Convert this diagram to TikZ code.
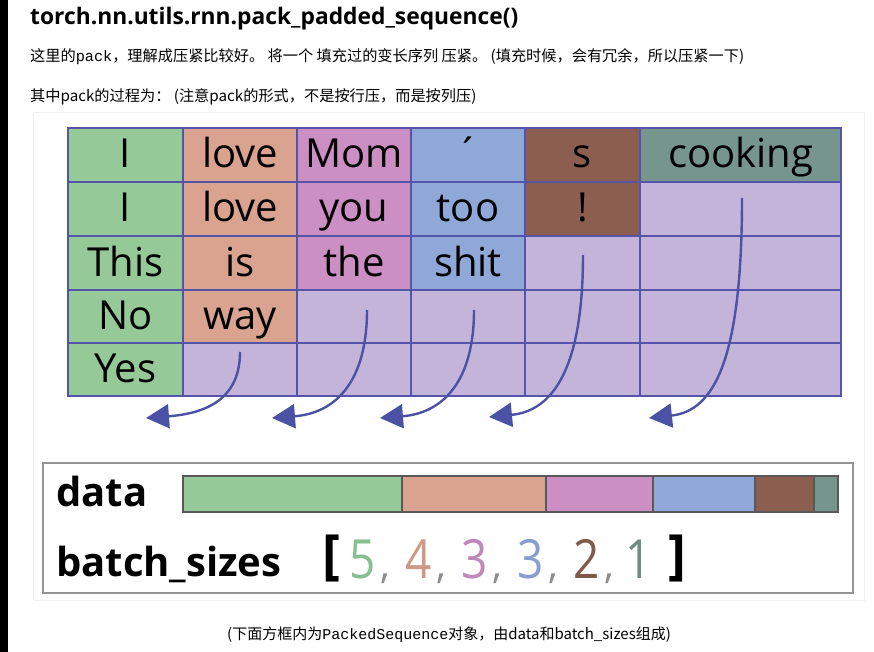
\documentclass[tikz,border=0pt]{standalone}
\usepackage{fontspec}
\setmainfont{Open Sans}
\setmonofont{Liberation Mono}
\newfontfamily\cjk{Noto Sans CJK SC}
\usetikzlibrary{arrows.meta}
\definecolor{cg}{HTML}{95C997}
\definecolor{cs}{HTML}{D9A38F}
\definecolor{cp}{HTML}{CC8FC4}
\definecolor{cb}{HTML}{8FA8D8}
\definecolor{cr}{HTML}{8B5E50}
\definecolor{ct}{HTML}{76958C}
\definecolor{cl}{HTML}{C4B4DA}
\definecolor{gridc}{HTML}{5454AA}
\definecolor{arrc}{HTML}{4B52A6}
\definecolor{d5}{HTML}{86C092}
\definecolor{d4}{HTML}{CD9A88}
\definecolor{d3}{HTML}{BF88B8}
\definecolor{d3b}{HTML}{879FD0}
\definecolor{d2}{HTML}{7E5A4C}
\definecolor{d1}{HTML}{6F8D84}
\begin{document}
\begin{tikzpicture}[x=1pt,y=-1pt,
  cell/.style={draw=gridc, line width=2.5pt, inner sep=0pt, text height=29pt, text depth=3pt,
    font=\fontsize{40}{40}\selectfont},
  arr/.style={draw=arrc, line width=2.4pt, -{Triangle[length=23pt,width=24pt]}},
  seg/.style={draw=black!65, line width=1.2pt, inner sep=0pt, minimum height=36pt},
  big/.style={anchor=base west, inner sep=0pt, font=\bfseries\fontsize{40}{40}\selectfont},
  digit/.style={anchor=base, inner sep=0pt, font=\fontsize{54}{54}\selectfont},
  comma/.style={anchor=base, inner sep=0pt, text=black!45, font=\fontsize{40}{40}\selectfont},
  brk/.style={inner sep=0pt, font=\bfseries\fontsize{54}{54}\selectfont},
  para/.style={anchor=west, inner sep=0pt, font=\cjk\fontsize{15.2}{16}\selectfont}]
\useasboundingbox (0,0) rectangle (874,652);
\fill[white] (0,0) rectangle (874,652);
\fill[black] (0,0) rectangle (8,652);
\draw[black!6, line width=0.8pt] (33,112) rectangle (864,600);

% header texts
\node[anchor=base west, inner sep=0pt, font=\bfseries\fontsize{22.8}{23}\selectfont] (title) at (30,25) {torch.nn.utils.rnn.pack\_padded\_sequence()};
\node[para] (l2) at (30,57) {这里的{\ttfamily pack}，理解成压紧比较好。 将一个 填充过的变长序列 压紧。 (填充时候，会有冗余，所以压紧一下)};
\node[para] (l3) at (30,97) {其中pack的过程为： (注意pack的形式，不是按行压，而是按列压)};

% grid
\def\colx{{68,183,297,411,525,640,841}}
\def\rowy{{128,182,236,290,343,396}}
\foreach \r/\c/\cc/\t in {
  0/0/cg/I, 0/1/cs/love, 0/2/cp/Mom, 0/3/cb/´, 0/4/cr/s, 0/5/ct/cooking,
  1/0/cg/I, 1/1/cs/love, 1/2/cp/you, 1/3/cb/too, 1/4/cr/!, 1/5/cl/,
  2/0/cg/This, 2/1/cs/is, 2/2/cp/the, 2/3/cb/shit, 2/4/cl/, 2/5/cl/,
  3/0/cg/No, 3/1/cs/way, 3/2/cl/, 3/3/cl/, 3/4/cl/, 3/5/cl/,
  4/0/cg/Yes, 4/1/cl/, 4/2/cl/, 4/3/cl/, 4/4/cl/, 4/5/cl/}{
  \pgfmathsetmacro\xa{\colx[\c]}
  \pgfmathsetmacro\xb{\colx[\c+1]}
  \pgfmathsetmacro\ya{\rowy[\r]}
  \pgfmathsetmacro\yb{\rowy[\r+1]}
  \node[cell, fill=\cc, minimum width={(\xb-\xa)*1pt}, minimum height={(\yb-\ya)*1pt}]
    (g\r\c) at ({(\xa+\xb)/2},{(\ya+\yb)/2}) {\t};
}

% arrows
\coordinate (s1) at (240,352); \coordinate (t1) at (146,418);
\coordinate (s2) at (367,310); \coordinate (t2) at (272,418);
\coordinate (s3) at (474,310); \coordinate (t3) at (380,418);
\coordinate (s4) at (583,255); \coordinate (t4) at (489,417);
\coordinate (s5) at (742,198); \coordinate (t5) at (649,418);
\draw[arr] (s1) .. controls (240,395) and (212,413) .. (t1);
\draw[arr] (s2) .. controls (367,380) and (337,413) .. (t2);
\draw[arr] (s3) .. controls (474,380) and (444,413) .. (t3);
\draw[arr] (s4) .. controls (583,370) and (552,411) .. (t4);
\draw[arr] (s5) .. controls (742,360) and (714,411) .. (t5);

% packed sequence box
\node[draw=black!42, line width=2pt, minimum width=810pt, minimum height=130pt, inner sep=0pt] (box) at (448,528) {};
\node[big] (datal) at (56,506) {data};
\node[big] (bsl) at (56,576) {batch\_sizes};
\node[seg, fill=cg, minimum width=219pt] (d1) at (292.5,494) {};
\node[seg, fill=cs, minimum width=144pt] (d2) at (474,494) {};
\node[seg, fill=cp, minimum width=107pt] (d3) at (599.5,494) {};
\node[seg, fill=cb, minimum width=102pt] (d4) at (704,494) {};
\node[seg, fill=cr, minimum width=59pt] (d5) at (784.5,494) {};
\node[seg, fill=ct, minimum width=24pt] (d6) at (826,494) {};

\node[brk] (lb) at (331,558) {[};
\node[digit, text=d5] (n1) at (363,578) {\scalebox{0.85}[1]{5}};
\node[comma] (k1) at (385,578) {,};
\node[digit, text=d4] (n2) at (419,578) {\scalebox{0.85}[1]{4}};
\node[comma] (k2) at (441,578) {,};
\node[digit, text=d3] (n3) at (475,578) {\scalebox{0.85}[1]{3}};
\node[comma] (k3) at (497,578) {,};
\node[digit, text=d3b] (n4) at (531,578) {\scalebox{0.85}[1]{3}};
\node[comma] (k4) at (553,578) {,};
\node[digit, text=d2] (n5) at (587,578) {\scalebox{0.85}[1]{2}};
\node[comma] (k5) at (609,578) {,};
\node[digit, text=d1] (n6) at (639,578) {\scalebox{0.85}[1]{1}};
\node[brk] (rb) at (677,558) {]};

% caption
\node[para, font=\cjk\fontsize{15}{16}\selectfont] (cap) at (227,635) {(下面方框内为{\ttfamily PackedSequence}对象，由data和batch\_sizes组成)};
\end{tikzpicture}
\end{document}
